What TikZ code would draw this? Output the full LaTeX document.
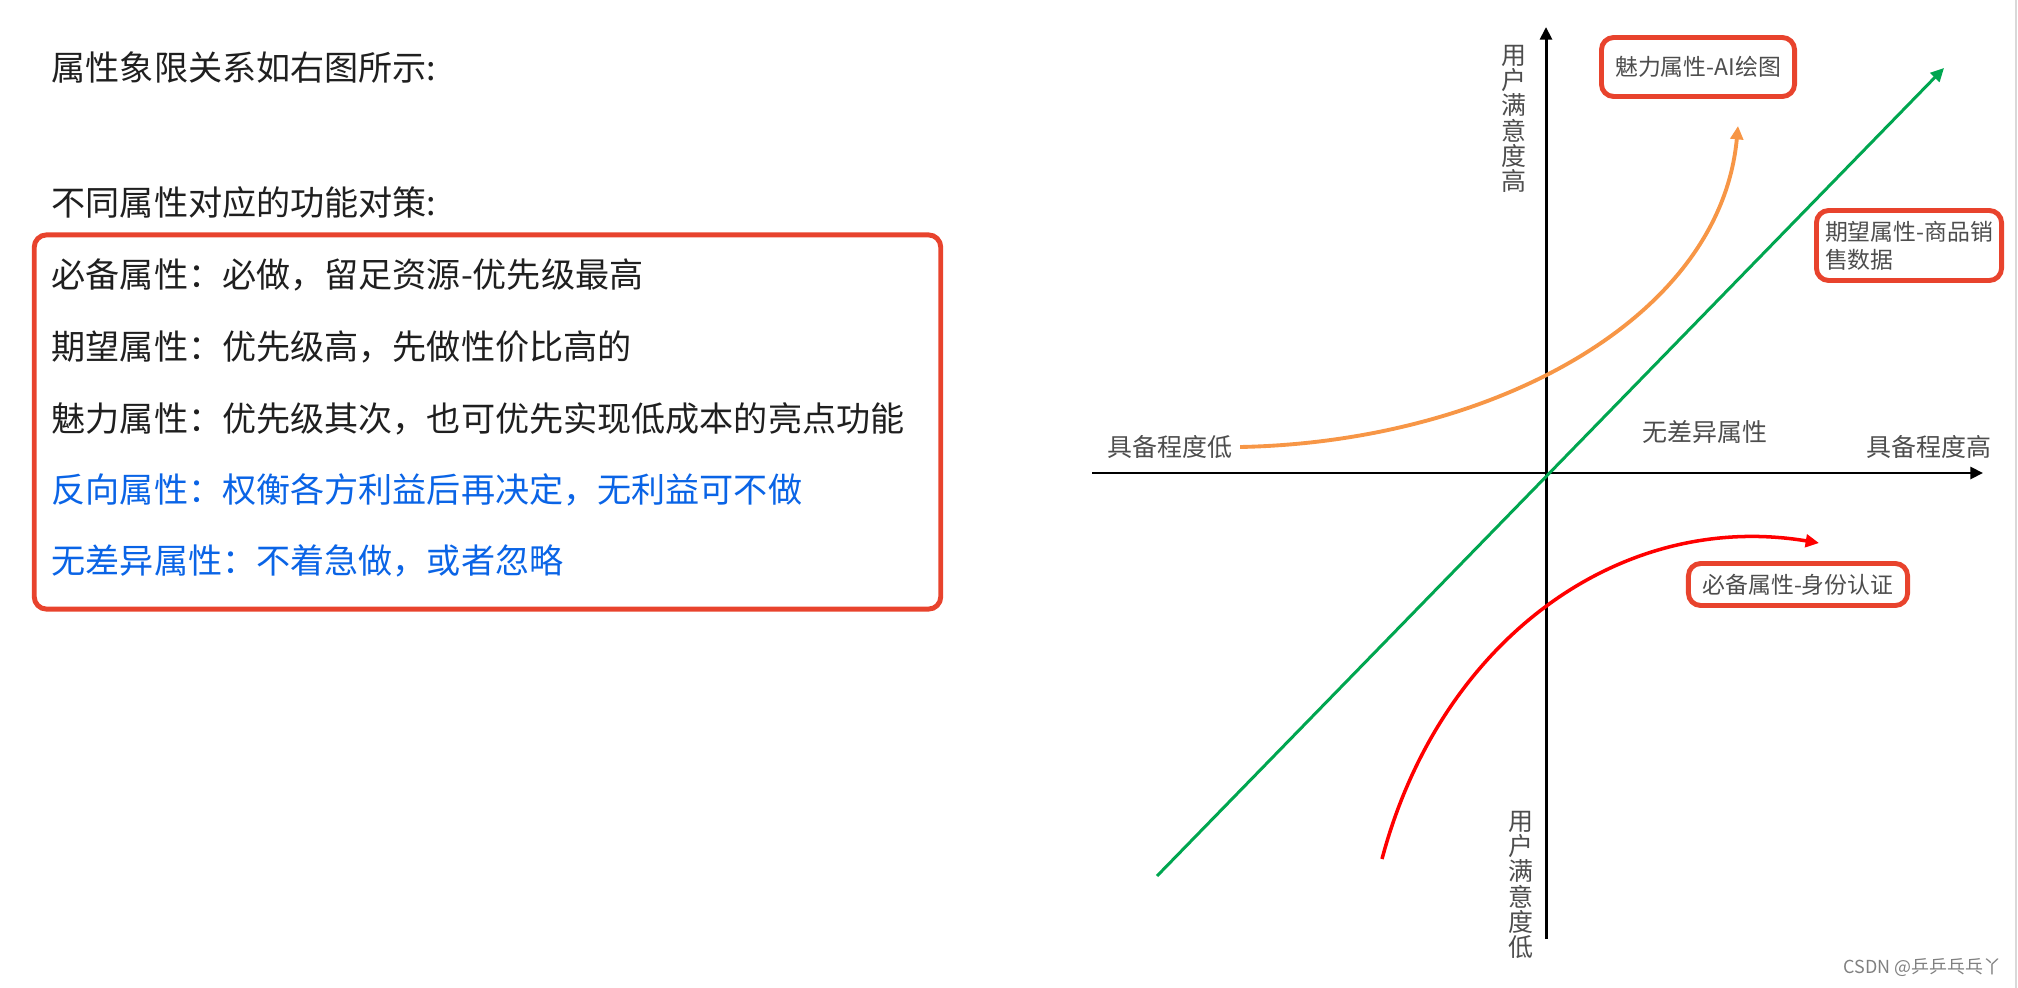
\documentclass[tikz,border=0pt]{standalone}
\usepackage{fontspec}
\usepackage{xcolor}
\usepackage{tikz}
\usetikzlibrary{arrows.meta, positioning, calc}
\newfontfamily\cjk{Noto Sans CJK SC}
\definecolor{boxred}{HTML}{E8432D}
\definecolor{noteblue}{HTML}{0A64E6}
\definecolor{charmorange}{HTML}{F79646}
\definecolor{expectgreen}{HTML}{00A650}
\definecolor{labelgray}{HTML}{4D4D4D}
\definecolor{bodytext}{HTML}{1F1F1F}

\begin{document}
\begin{tikzpicture}[
    x=0.01cm, y=-0.01cm,
    every node/.style={font=\cjk},
    titletext/.style={anchor=west, inner sep=0pt, text=bodytext, font=\cjk\fontsize{9.7pt}{11pt}\selectfont},
    itemtext/.style={titletext},
    blueitem/.style={titletext, text=noteblue},
    redbox/.style={rectangle, draw=boxred, line width=1.4pt, rounded corners=3.5pt},
    tagbox/.style={redbox, text=labelgray, inner sep=0pt, font=\cjk\fontsize{6.5pt}{8pt}\selectfont},
    axislabel/.style={text=labelgray, inner sep=0pt, font=\cjk\fontsize{7.1pt}{7.2pt}\selectfont},
    axisline/.style={draw, line width=0.85pt, -{Triangle[length=3.6pt, width=3.4pt]}},
    trendline/.style={draw, line width=1pt, -{Triangle[length=3.8pt, width=3.6pt]}}
]
    \useasboundingbox (0,0) rectangle (2018,988);

    % Left text
    \node [titletext] (title) at (51,68) {属性象限关系如右图所示:};
    \node [titletext] (policy) at (51,203) {不同属性对应的功能对策:};
    \node [redbox, minimum width=9.06cm, minimum height=3.74cm] (strategies) at (487.5,422) {};
    \node [itemtext] (must) at (51,275) {必备属性：必做，留足资源-优先级最高};
    \node [itemtext] (expect) at (51,347) {期望属性：优先级高，先做性价比高的};
    \node [itemtext] (charm) at (51,419) {魅力属性：优先级其次，也可优先实现低成本的亮点功能};
    \node [blueitem] (reverse) at (51,490) {反向属性：权衡各方利益后再决定，无利益可不做};
    \node [blueitem] (neutral) at (51,561) {无差异属性：不着急做，或者忽略};

    % Axes
    \coordinate (xleft) at (1092,473);
    \coordinate (xright) at (1983,473);
    \coordinate (ybottom) at (1546,939);
    \coordinate (ytop) at (1546,27);
    \path [axisline] (xleft) -- (xright);
    \path [axisline] (ybottom) -- (ytop);

    % Axis labels
    \node [axislabel, align=center] (sathigh) at (1514,119) {用\\户\\满\\意\\度\\高};
    \node [axislabel, align=center] (satlow) at (1521,885) {用\\户\\满\\意\\度\\低};
    \node [axislabel] (low) at (1170,447) {具备程度低};
    \node [axislabel] (high) at (1929,447) {具备程度高};
    \node [axislabel] (indiff) at (1705,432) {无差异属性};

    % Attribute tags
    \node [tagbox, minimum width=1.93cm, minimum height=0.59cm] (charmtag) at (1698,67) {魅力属性-AI绘图};
    \node [tagbox, align=left, minimum width=1.85cm, minimum height=0.70cm] (expecttag) at (1909,245.5) {期望属性-商品销\\售数据};
    \node [tagbox, minimum width=2.19cm, minimum height=0.42cm] (musttag) at (1798,584.5) {必备属性-身份认证};

    % Curves
    \coordinate (greenstart) at (1157,876);
    \coordinate (greenend) at (1944,68);
    \coordinate (charmend) at (1738,126);
    \coordinate (muststart) at (1382,859);
    \coordinate (mustend) at (1819,543);
    \path [trendline, draw=expectgreen, line width=0.85pt] (greenstart) -- (greenend);
    \path [trendline, draw=charmorange, line width=1.1pt] ([xshift=2]low.east) .. controls (1490,442) and (1720,320) .. (charmend);
    \path [trendline, draw=red] (muststart) .. controls (1440,640) and (1620,510) .. (mustend);

    % Watermark and edge
    \node [anchor=east, inner sep=0pt, text=black!50, font=\cjk\fontsize{5.1pt}{6pt}\selectfont] (mark) at (2002,968) {CSDN @乒乒乓乓丫};
    \draw [black!15, line width=0.6pt] (2016,0) -- (2016,988);

\end{tikzpicture}
\end{document}
